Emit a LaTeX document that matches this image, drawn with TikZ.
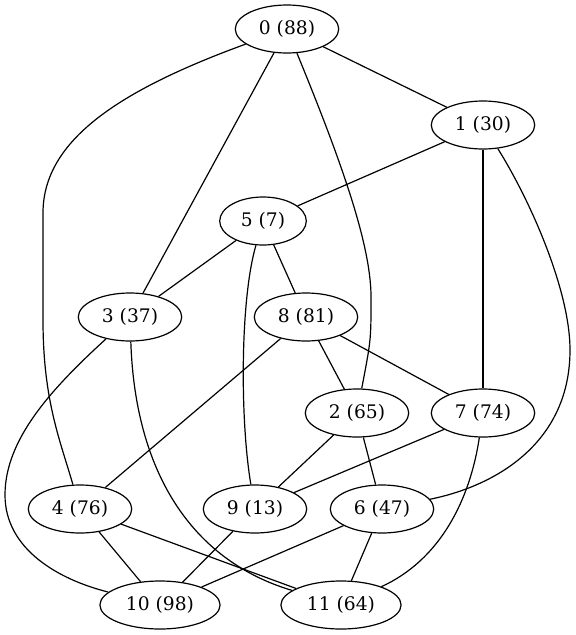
\documentclass[tikz,border=0pt]{standalone}
\usepackage{fontspec}
\setmainfont{DejaVu Serif}
\usetikzlibrary{positioning,shapes.geometric}
\begin{document}
\begin{tikzpicture}[x=1pt, y=-1pt, on grid, line width=1.2pt]
		\tikzstyle{vertex} = [ellipse, draw=black, minimum height=48pt, inner xsep=8.5pt, text centered, font=\fontsize{18.67pt}{22pt}\selectfont];
		\useasboundingbox (0,0) rectangle (576,635);
		\node (n0) [vertex] at (287,29) {0 (88)};
		\node (n1) [vertex, below right=96pt and 196pt of n0] {1 (30)};
		\node (n5) [vertex, below left=96pt and 220pt of n1] {5 (7)};
		\node (n3) [vertex, below left=96pt and 133pt of n5] {3 (37)};
		\node (n8) [vertex, below right=96pt and 43pt of n5] {8 (81)};
		\node (n2) [vertex, below right=96pt and 51pt of n8] {2 (65)};
		\node (n7) [vertex, right=126pt of n2] {7 (74)};
		\node (n4) [vertex, below left=192pt and 50pt of n3] {4 (76)};
		\node (n9) [vertex, below left=96pt and 102pt of n2] {9 (13)};
		\node (n6) [vertex, below right=96pt and 25pt of n2] {6 (47)};
		\node (n10) [vertex, below right=96pt and 80pt of n4] {10 (98)};
		\node (n11) [vertex, below left=96pt and 41pt of n6] {11 (64)};
		\draw (n0) -- (n1);
		\draw (n0) -- (n3);
		\draw (n0) .. controls (120,90) and (43,140) .. (43,213) -- (43,320) .. controls (43,400) and (60,440) .. (n4);
		\draw (n0) .. controls (345,170) and (372,250) .. (371,300) .. controls (371,340) .. (n2);
		\draw (n1) -- (n5);
		\draw (n1) -- (n7);
		\draw (n1) .. controls (530,200) and (570,290) .. (570,350) .. controls (570,440) and (500,485) .. (n6);
		\draw (n5) -- (n3);
		\draw (n5) -- (n8);
		\draw (n5) .. controls (240,300) and (240,420) .. (n9);
		\draw (n3) .. controls (50,390) and (5,440) .. (5,495) .. controls (5,550) and (60,580) .. (n10);
		\draw (n3) .. controls (135,470) and (190,560) .. (n11);
		\draw (n8) -- (n4);
		\draw (n8) -- (n2);
		\draw (n8) -- (n7);
		\draw (n2) -- (n9);
		\draw (n2) -- (n6);
		\draw (n7) -- (n9);
		\draw (n7) .. controls (470,500) and (440,560) .. (n11);
		\draw (n4) -- (n10);
		\draw (n4) -- (n11);
		\draw (n6) -- (n10);
		\draw (n6) -- (n11);
		\draw (n9) -- (n10);
	\end{tikzpicture}
\end{document}
